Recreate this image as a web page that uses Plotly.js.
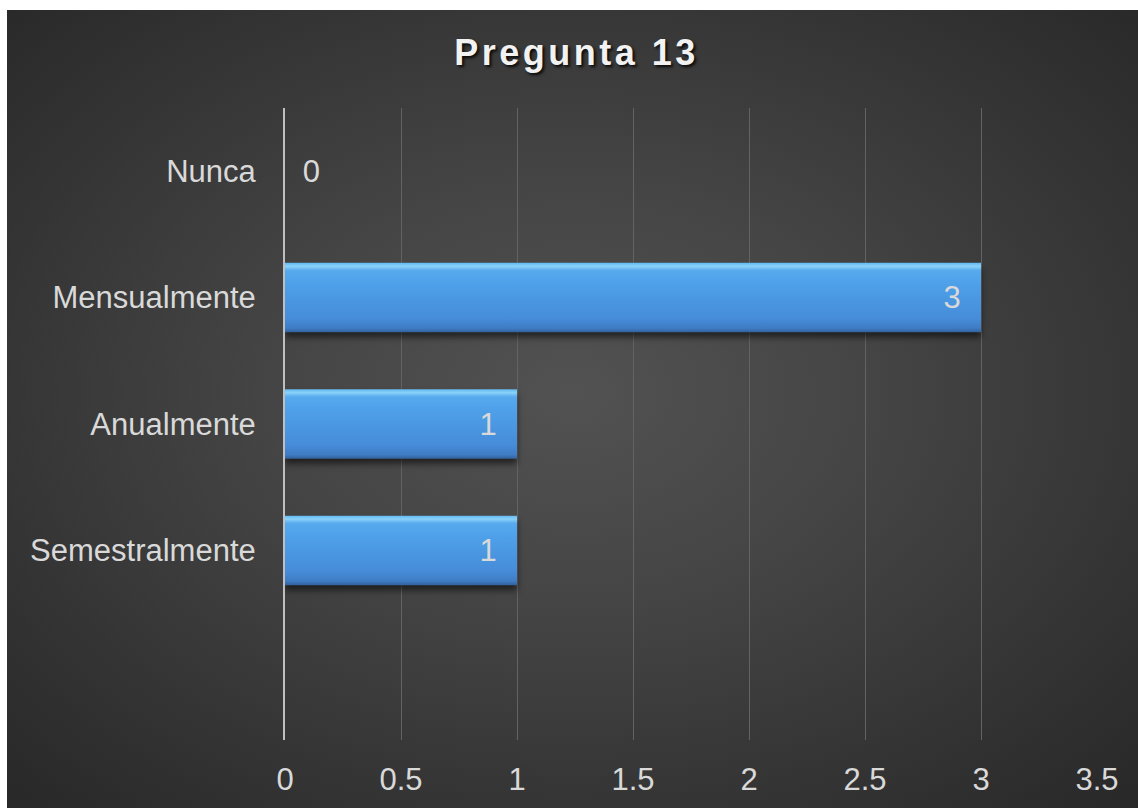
<!DOCTYPE html>
<html>
<head>
<meta charset="utf-8">
<script src="https://cdn.plot.ly/plotly-3.0.1.min.js"></script>
<style>
  html, body { margin: 0; padding: 0; background: #ffffff; width: 1138px; height: 808px; overflow: hidden; }
  #chart {
    position: absolute; left: 7px; top: 10px; width: 1131px; height: 798px;
    background: radial-gradient(ellipse 75% 75% at 50% 48%, #525252 0%, #454545 35%, #343434 70%, #262626 100%);
  }
  #chart .gtitle { letter-spacing: 3.5px; }
  #chart .trace.bars .point path {
    fill: url(#barGrad) !important;
    filter: drop-shadow(0px 5px 3px rgba(0,0,0,0.55));
  }
</style>
</head>
<body>
<div id="chart"></div>
<script>
const categories = ['Nunca', 'Mensualmente', 'Anualmente', 'Semestralmente'];
const values = [0, 3, 1, 1];
const labelTemplates = ['\u00a0\u2009%{x}', '%{x}\u00a0\u00a0', '%{x}\u00a0\u00a0', '%{x}\u00a0\u00a0'];
const labelPositions = ['outside', 'inside', 'inside', 'inside'];
const xTickValues = [0, 0.5, 1, 1.5, 2, 2.5, 3, 3.5];
const xTickLabels = ['0', '0.5', '1', '1.5', '2', '2.5', '3', '3.5'];

const FONT = 'Liberation Sans, Arial, sans-serif';

const trace = {
  type: 'bar',
  orientation: 'h',
  y: categories,
  x: values,
  width: 0.55,
  texttemplate: labelTemplates,
  textposition: labelPositions,
  insidetextanchor: 'end',
  constraintext: 'none',
  cliponaxis: false,
  textfont: { family: FONT, size: 31, color: '#d9d9d9' },
  insidetextfont: { family: FONT, size: 31, color: '#d9d9d9' },
  outsidetextfont: { family: FONT, size: 31, color: '#d9d9d9' },
  marker: { color: '#4d9fe9', line: { color: '#3b7cc2', width: 0 } },
  hoverinfo: 'skip'
};

const layout = {
  width: 1131,
  height: 798,
  paper_bgcolor: 'rgba(0,0,0,0)',
  plot_bgcolor: 'rgba(0,0,0,0)',
  margin: { l: 278, r: 41, t: 98, b: 68, pad: 0 },
  showlegend: false,
  title: {
    text: 'Pregunta 13',
    font: { family: FONT, size: 36, weight: 'bold', color: '#f2f2f2', shadow: '2px 2px 3px rgba(0,0,0,0.85)' },
    x: 0.5035, xref: 'container', xanchor: 'center',
    y: 0.947, yref: 'container', yanchor: 'middle'
  },
  xaxis: {
    range: [0, 3.5],
    tickvals: xTickValues,
    ticktext: xTickLabels,
    showgrid: true,
    gridcolor: '#636363',
    gridwidth: 1,
    zeroline: false,
    showline: false,
    ticks: '',
    ticklabelstandoff: 18,
    tickfont: { family: FONT, size: 31, color: '#d9d9d9' },
    fixedrange: true
  },
  yaxis: {
    type: 'category',
    categoryorder: 'array',
    categoryarray: categories,
    range: [4.5, -0.5],
    showgrid: false,
    zeroline: false,
    showline: true,
    linecolor: '#bfbfbf',
    linewidth: 2,
    ticks: '',
    ticklabelstandoff: 21,
    tickfont: { family: FONT, size: 31, color: '#d9d9d9' },
    fixedrange: true
  },
  bargap: 0.45
};

Plotly.newPlot('chart', [trace], layout, { displayModeBar: false, staticPlot: true }).then(function (gd) {
  const svg = gd.querySelector('svg.main-svg');
  const ns = 'http://www.w3.org/2000/svg';
  let defs = svg.querySelector('defs');
  if (!defs) { defs = document.createElementNS(ns, 'defs'); svg.insertBefore(defs, svg.firstChild); }
  const grad = document.createElementNS(ns, 'linearGradient');
  grad.setAttribute('id', 'barGrad');
  grad.setAttribute('x1', '0'); grad.setAttribute('y1', '0');
  grad.setAttribute('x2', '0'); grad.setAttribute('y2', '1');
  const stops = [
    [0, '#62b8f1'], [0.05, '#8ad2f9'], [0.11, '#58aaee'], [0.3, '#4ea0e9'],
    [0.8, '#468cd9'], [0.94, '#3f7cc4'], [1, '#31629c']
  ];
  stops.forEach(function (s) {
    const st = document.createElementNS(ns, 'stop');
    st.setAttribute('offset', s[0]);
    st.setAttribute('stop-color', s[1]);
    grad.appendChild(st);
  });
  defs.appendChild(grad);
});
</script>
</body>
</html>
